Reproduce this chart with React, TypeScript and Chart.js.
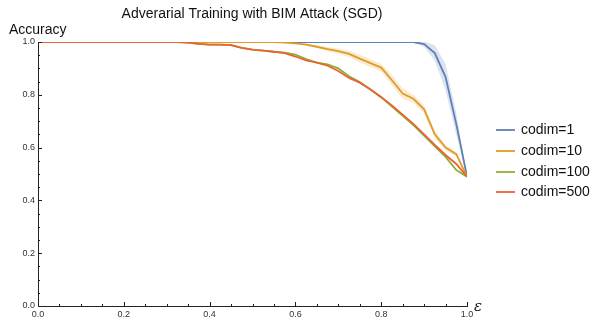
import React, { useEffect, useRef } from "react";
import { Chart, registerables } from "chart.js";

Chart.register(...registerables);

const titleText = "Adverarial Training with BIM Attack (SGD)";
const yAxisLabel = "Accuracy";
const xAxisLabel = "ε";

const epsilon = [
  0.0, 0.025, 0.05, 0.075, 0.1, 0.125, 0.15, 0.175, 0.2, 0.225,
  0.25, 0.275, 0.3, 0.325, 0.35, 0.375, 0.4, 0.425, 0.45, 0.475,
  0.5, 0.525, 0.55, 0.575, 0.6, 0.625, 0.65, 0.675, 0.7, 0.725,
  0.75, 0.775, 0.8, 0.825, 0.85, 0.875, 0.9, 0.925, 0.95, 0.975, 1.0,
];

const codim1 = [
  1, 1, 1, 1, 1, 1, 1, 1, 1, 1,
  1, 1, 1, 1, 1, 1, 1, 1, 1, 1,
  1, 1, 1, 1, 1, 1, 1, 1, 1, 1,
  1, 1, 1, 1, 1, 1, 0.992, 0.958, 0.867, 0.69, 0.49,
];
const codim1Band = [
  0, 0, 0, 0, 0, 0, 0, 0, 0, 0,
  0, 0, 0, 0, 0, 0, 0, 0, 0, 0,
  0, 0, 0, 0, 0, 0, 0, 0, 0, 0,
  0, 0, 0, 0, 0, 0.002, 0.01, 0.03, 0.05, 0.04, 0,
];

const codim10 = [
  1, 1, 1, 1, 1, 1, 1, 1, 1, 1,
  1, 1, 1, 1, 1, 1, 1, 1, 1, 1,
  1, 1, 1, 0.998, 0.995, 0.99, 0.982, 0.973, 0.965, 0.955,
  0.937, 0.92, 0.903, 0.855, 0.805, 0.785, 0.745, 0.65, 0.6, 0.575, 0.49,
];
const codim10Band = [
  0, 0, 0, 0, 0, 0, 0, 0, 0, 0,
  0, 0, 0, 0, 0, 0, 0, 0, 0, 0,
  0, 0, 0, 0.002, 0.003, 0.004, 0.005, 0.008, 0.01, 0.012,
  0.015, 0.015, 0.015, 0.02, 0.02, 0.015, 0.015, 0.015, 0.01, 0.008, 0,
];

const codim100 = [
  1, 1, 1, 1, 1, 1, 1, 1, 1, 1,
  1, 1, 1, 1, 0.998, 0.993, 0.99, 0.99, 0.988, 0.978,
  0.971, 0.967, 0.963, 0.96, 0.952, 0.935, 0.922, 0.915, 0.9, 0.87,
  0.848, 0.82, 0.79, 0.755, 0.72, 0.685, 0.645, 0.605, 0.565, 0.515, 0.49,
];

const codim500 = [
  1, 1, 1, 1, 1, 1, 1, 1, 1, 1,
  1, 1, 1, 1, 0.998, 0.993, 0.99, 0.99, 0.988, 0.978,
  0.971, 0.967, 0.963, 0.958, 0.945, 0.93, 0.922, 0.91, 0.89, 0.864,
  0.846, 0.82, 0.792, 0.76, 0.725, 0.69, 0.65, 0.61, 0.572, 0.538, 0.49,
];

const seriesLabels = ["codim=1", "codim=10", "codim=100", "codim=500"];
const seriesColors = ["#5E81B5", "#E19C24", "#8FB032", "#EB6235"];
const bandColors = ["rgba(94,129,181,0.22)", "rgba(225,156,36,0.2)"];

const FONT = '"Liberation Sans", Arial, sans-serif';

const pts = (ys: number[]) => epsilon.map((x, i) => ({ x, y: ys[i] }));
const upper = (ys: number[], b: number[]) => epsilon.map((x, i) => ({ x, y: ys[i] + b[i] }));
const lower = (ys: number[], b: number[]) => epsilon.map((x, i) => ({ x, y: ys[i] - b[i] }));

const decorPlugin = {
  id: "decor",
  afterDraw(chart: any) {
    const ctx = chart.ctx;
    const xs = chart.scales.x;
    const ys = chart.scales.y;
    const area = chart.chartArea;
    ctx.save();
    // inward tick marks
    ctx.strokeStyle = "#222";
    ctx.lineWidth = 1;
    for (let k = 0; k <= 20; k++) {
      const v = k / 20;
      const major = k % 4 === 0;
      const len = major ? 4 : 2;
      const px = Math.round(xs.getPixelForValue(v)) + 0.5;
      ctx.beginPath();
      ctx.moveTo(px, area.bottom);
      ctx.lineTo(px, area.bottom - len);
      ctx.stroke();
      const py = Math.round(ys.getPixelForValue(v)) + 0.5;
      ctx.beginPath();
      ctx.moveTo(area.left, py);
      ctx.lineTo(area.left + len, py);
      ctx.stroke();
    }
    // title
    ctx.fillStyle = "#111";
    ctx.font = `14px ${FONT}`;
    ctx.textAlign = "center";
    ctx.textBaseline = "middle";
    ctx.fillText(titleText, 252, 14);
    // axis labels
    ctx.textAlign = "left";
    ctx.fillText(yAxisLabel, 9, 30);
    ctx.font = `italic 15px "DejaVu Serif", serif`;
    ctx.fillText(xAxisLabel, 474, 307);
    // legend
    ctx.font = `14px ${FONT}`;
    const legendY = [130, 151, 172, 192];
    seriesLabels.forEach((lab, i) => {
      ctx.strokeStyle = seriesColors[i];
      ctx.lineWidth = 1.8;
      ctx.beginPath();
      ctx.moveTo(496, legendY[i]);
      ctx.lineTo(515, legendY[i]);
      ctx.stroke();
      ctx.fillStyle = "#111";
      ctx.fillText(lab, 521, legendY[i]);
    });
    ctx.restore();
  },
};

export default function App() {
  const ref = useRef<HTMLCanvasElement>(null);
  useEffect(() => {
    if (!ref.current) return;
    const lineDs = (label: string, data: number[], color: string, order: number) => ({
      label,
      data: pts(data),
      borderColor: color,
      backgroundColor: color,
      borderWidth: 1.8,
      pointRadius: 0,
      tension: 0,
      fill: false,
      order,
    });
    const chart = new Chart(ref.current, {
      type: "line",
      data: {
        datasets: [
          { data: upper(codim1, codim1Band), borderWidth: 0, pointRadius: 0, fill: { target: 1 }, backgroundColor: bandColors[0], order: 10 },
          { data: lower(codim1, codim1Band), borderWidth: 0, pointRadius: 0, fill: false, order: 11 },
          { data: upper(codim10, codim10Band), borderWidth: 0, pointRadius: 0, fill: { target: 3 }, backgroundColor: bandColors[1], order: 10 },
          { data: lower(codim10, codim10Band), borderWidth: 0, pointRadius: 0, fill: false, order: 11 },
          lineDs(seriesLabels[0], codim1, seriesColors[0], 3),
          lineDs(seriesLabels[1], codim10, seriesColors[1], 2),
          lineDs(seriesLabels[2], codim100, seriesColors[2], 1),
          lineDs(seriesLabels[3], codim500, seriesColors[3], 0),
        ] as any,
      },
      options: {
        animation: false,
        responsive: false,
        layout: { padding: { left: 0, top: 42, right: 123, bottom: 0 } },
        plugins: { legend: { display: false }, tooltip: { enabled: false }, title: { display: false } },
        scales: {
          x: {
            type: "linear",
            min: 0,
            max: 1,
            grid: { display: false, drawTicks: false },
            border: { display: true, color: "#222", width: 1 },
            ticks: {
              stepSize: 0.2,
              padding: 3,
              color: "#333",
              font: { size: 9, family: FONT },
              maxRotation: 0,
              autoSkip: false,
              callback: (v: any) => Number(v).toFixed(1),
            },
            afterFit: (s: any) => { s.height = 14; },
          },
          y: {
            type: "linear",
            min: 0,
            max: 1,
            grid: { display: false, drawTicks: false },
            border: { display: true, color: "#222", width: 1 },
            ticks: {
              stepSize: 0.2,
              padding: 3,
              color: "#333",
              font: { size: 9, family: FONT },
              callback: (v: any) => Number(v).toFixed(1),
            },
            afterFit: (s: any) => { s.width = 38; },
          },
        },
      } as any,
      plugins: [decorPlugin],
    });
    return () => chart.destroy();
  }, []);
  return (
    <div style={{ position: "fixed", left: 0, top: 0, width: 590, height: 320, background: "#fff" }}>
      <canvas ref={ref} width={590} height={320} style={{ width: 590, height: 320 }} />
    </div>
  );
}
